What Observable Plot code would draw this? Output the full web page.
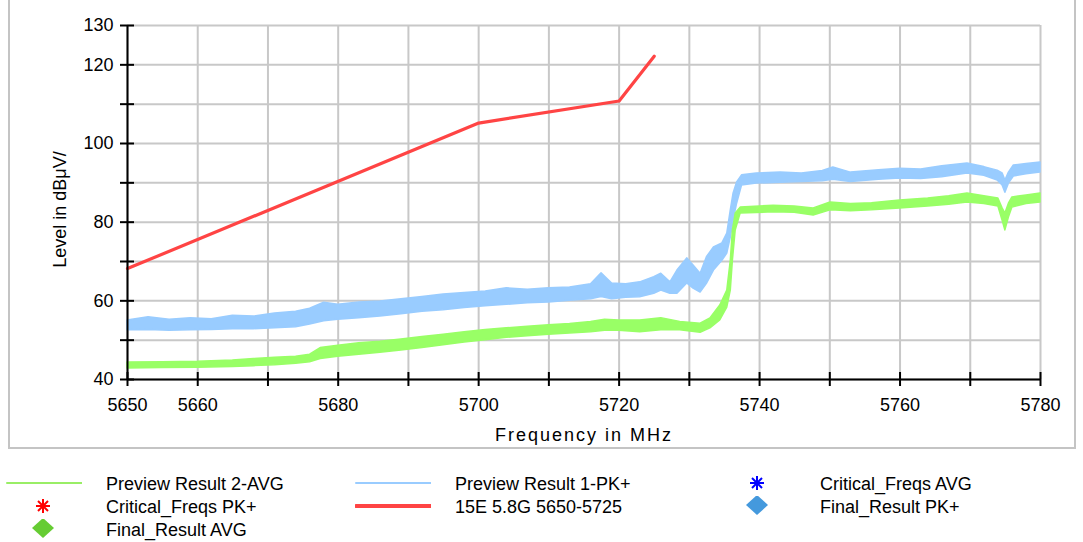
<!DOCTYPE html>
<html><head><meta charset="utf-8">
<script src="https://cdn.jsdelivr.net/npm/d3@7"></script>
<script src="https://cdn.jsdelivr.net/npm/@observablehq/plot@0.6"></script>
<style>
body{margin:0;background:#fff;font-family:"Liberation Sans",Arial,sans-serif;}
#wrap{position:relative;width:1083px;height:542px;overflow:hidden;background:#fff;}
#frame{position:absolute;left:8px;top:-4px;width:1068px;height:453px;border:2px solid #c4c4c4;border-top:none;box-sizing:border-box;}
#chart{position:absolute;left:0;top:0;}
#legend{position:absolute;left:6px;top:473px;display:grid;grid-template-columns:349px 365px 360px;grid-auto-rows:23px;font-size:18px;line-height:23px;color:#000;}
.item{display:flex;align-items:flex-start;}
.item svg{flex:0 0 76px;margin-right:24px;}
</style>
</head><body>
<div id="wrap"><div id="frame"></div><div id="chart"></div><div id="legend"></div></div>
<script>
// Axis ticks and labels
const xTicks = [5650,5660,5670,5680,5690,5700,5710,5720,5730,5740,5750,5760,5770,5780];
const xLabels = [5650,5660,5680,5700,5720,5740,5760,5780];
const yTicks = [40,50,60,70,80,90,100,110,120,130];
const yLabels = [40,60,80,100,120,130];

// Limit line: 15E 5.8G 5650-5725
const limitFreq = [5650, 5700, 5720, 5725];
const limitLevel = [68.2, 105.2, 110.8, 122.2];

// Preview Result 1-PK+ (band: lower / upper envelope)
const pkFreq = [5650,5653,5656,5659,5662,5665,5668,5671,5674,5676,5678,5680,5683,5686,5689,5692,5695,5698,5701,5704,5707,5710,5713,5716,5717.5,5719,5721,5723,5725,5726,5727.3,5728.3,5729.7,5730.6,5731.6,5732.5,5733.5,5734.7,5735.4,5735.9,5736.3,5736.8,5737.5,5739.6,5743,5746,5749,5750.5,5753,5757,5760,5763,5766,5769.6,5772,5773.9,5774.6,5775,5775.5,5776.2,5778,5780];
const pkLo = [52.5,52.6,52.4,52.5,52.6,52.8,52.8,53.0,53.3,54.0,54.8,55.2,55.6,56.0,56.6,57.2,57.6,58.2,58.6,59.0,59.4,59.6,60.0,60.4,61.0,60.4,60.8,60.9,61.8,62.6,61.8,61.8,64.4,63.1,62.1,64.3,67.7,70.2,72.0,76.1,80.4,84.7,89.3,89.8,90.0,90.2,90.4,90.8,90.2,90.8,91.1,91.0,91.4,92.4,91.8,90.6,89.3,87.5,89.8,91.6,92.2,92.6];
const pkHi = [55.0,55.8,55.2,55.6,55.3,56.2,56.0,56.8,57.2,58.0,59.5,59.0,59.6,59.8,60.4,61.0,61.6,62.0,62.4,63.2,62.8,63.2,63.4,64.2,67.0,64.4,64.2,64.7,66.0,66.9,64.7,67.7,70.8,69.0,66.9,71.1,73.6,74.6,77.1,83.0,87.3,90.1,91.9,92.4,92.6,92.4,93.0,93.9,92.6,93.2,93.6,93.4,94.2,94.9,94.0,93.1,92.4,90.6,92.6,94.4,94.8,95.2];

// Preview Result 2-AVG (band: lower / upper envelope)
const avFreq = [5650,5655,5660,5665,5668,5671,5674,5676,5677.5,5680,5683,5686,5689,5692,5695,5698,5701,5704,5707,5710,5713,5716,5718,5720,5723,5726,5728.7,5731.6,5733,5734.4,5735.4,5735.9,5736.2,5736.6,5737.3,5742,5745,5747.7,5750.1,5753,5756,5760,5764,5767,5769.6,5772,5774,5774.6,5775,5775.5,5776,5778,5780];
const avLo = [42.8,42.9,43.0,43.2,43.4,43.6,44.0,44.4,45.2,45.8,46.3,46.8,47.4,48.0,48.7,49.4,50.0,50.6,51.0,51.4,51.7,52.0,52.4,52.4,52.0,52.5,52.5,51.9,53.0,55.0,58.3,62.6,70.2,77.9,82.2,82.5,82.4,81.7,83.0,82.8,83.0,83.5,84.0,84.4,85.0,84.6,84.0,80.4,77.9,81.2,83.7,84.6,85.0];
const avHi = [44.3,44.4,44.5,44.8,45.2,45.5,45.8,46.3,48.0,48.6,49.2,49.6,50.2,50.8,51.4,52.0,52.6,53.0,53.4,53.8,54.1,54.6,55.2,55.0,55.0,55.6,54.6,54.2,55.5,58.8,62.6,70.2,77.9,82.2,83.7,84.2,84.0,83.5,85.0,84.6,84.8,85.5,86.0,86.6,87.3,86.6,86.0,83.5,82.2,84.7,86.3,86.8,87.3];

// Legend
const legendLabels = ["Preview Result 2-AVG","Preview Result 1-PK+","Critical_Freqs AVG","Critical_Freqs PK+","15E 5.8G 5650-5725","Final_Result PK+","Final_Result AVG"];
const legendKinds = ["line","line","star","star","line","diamond","diamond"];
const legendColors = ["#99ee66","#99ccff","#0000ff","#ff0000","#ff4444","#4499dd","#66cc33"];
const legendWidths = [2,2,2,2,4,0,0];

const colGreen = "#99ff66", colBlue = "#99ccff", colRed = "#ff4444";

const pk = pkFreq.map((f,i) => ({f, lo: pkLo[i], hi: pkHi[i]}));
const av = avFreq.map((f,i) => ({f, lo: avLo[i], hi: avHi[i]}));
const lim = limitFreq.map((f,i) => ({f, v: limitLevel[i]}));

const chart = Plot.plot({
  width: 1083, height: 450,
  marginLeft: 127, marginRight: 43, marginTop: 25, marginBottom: 71,
  style: {fontFamily: '"Liberation Sans", Arial, sans-serif', fontSize: "18px", color: "#000", background: "transparent"},
  x: {domain: [xTicks[0], xTicks[xTicks.length-1]]},
  y: {domain: [yTicks[0], yTicks[yTicks.length-1]]},
  marks: [
    Plot.gridX(xTicks, {stroke: "#c8c8c8", strokeOpacity: 1, strokeWidth: 2}),
    Plot.gridY(yTicks, {stroke: "#c8c8c8", strokeOpacity: 1, strokeWidth: 2}),
    Plot.areaY(pk, {x: "f", y1: "lo", y2: "hi", fill: colBlue, stroke: colBlue, strokeWidth: 1.5}),
    Plot.areaY(av, {x: "f", y1: "lo", y2: "hi", fill: colGreen, stroke: colGreen, strokeWidth: 1.5}),
    Plot.line(lim, {x: "f", y: "v", stroke: colRed, strokeWidth: 3.2}),
    Plot.ruleX([xTicks[0]], {stroke: "#000", strokeWidth: 2}),
    Plot.ruleY([yTicks[0]], {stroke: "#000", strokeWidth: 2}),
    Plot.ruleY(yTicks, {x1: xTicks[0], x2: xTicks[0], insetLeft: -7, insetRight: -7, stroke: "#000", strokeWidth: 2}),
    Plot.ruleX(xTicks, {y1: yTicks[0], y2: yTicks[0], insetTop: -7, insetBottom: -7, stroke: "#000", strokeWidth: 2}),
    Plot.axisX(xTicks, {tickSize: 0, tickPadding: 19, label: null, tickFormat: d => xLabels.includes(d) ? String(d) : "", fontSize: 18}),
    Plot.axisY(yTicks, {tickSize: 0, tickPadding: 14, label: null, tickFormat: d => yLabels.includes(d) ? String(d) : "", fontSize: 18}),
    Plot.text(["Frequency in MHz"], {text: d => d, frameAnchor: "bottom", textAnchor: "middle", lineAnchor: "bottom", dy: 61, fontSize: 18}),
    Plot.text(["Level in dBμV/"], {text: d => d, frameAnchor: "left", textAnchor: "middle", lineAnchor: "middle", dx: -67, dy: 7, rotate: -90, fontSize: 18})
  ]
});
chart.querySelectorAll("text").forEach(t => { if (t.textContent === "Frequency in MHz") t.style.letterSpacing = "2px"; });
document.getElementById("chart").appendChild(chart);

// Legend build
const legend = document.getElementById("legend");
const ns = "http://www.w3.org/2000/svg";
legendLabels.forEach((lab, i) => {
  const item = document.createElement("div");
  item.className = "item";
  const s = document.createElementNS(ns, "svg");
  s.setAttribute("width", 76); s.setAttribute("height", 23);
  const c = legendColors[i];
  let html = "";
  if (legendKinds[i] === "line") {
    html = `<line x1="1" x2="76" y1="10" y2="10" stroke="${c}" stroke-width="${legendWidths[i]}" stroke-linecap="round"/>`;
  } else if (legendKinds[i] === "star") {
    html = `<g transform="translate(37,10)" stroke="${c}" stroke-width="2"><line x1="0" y1="-7" x2="0" y2="7"/><line x1="-7" y1="0" x2="7" y2="0"/><line x1="-5" y1="-5" x2="5" y2="5"/><line x1="-5" y1="5" x2="5" y2="-5"/></g>`;
  } else {
    html = `<path transform="translate(37,9)" d="M0,-10L11,0L0,10L-11,0Z" fill="${c}"/>`;
  }
  s.innerHTML = html;
  item.appendChild(s);
  const span = document.createElement("span");
  span.textContent = lab;
  item.appendChild(span);
  legend.appendChild(item);
});
</script>
</body></html>
